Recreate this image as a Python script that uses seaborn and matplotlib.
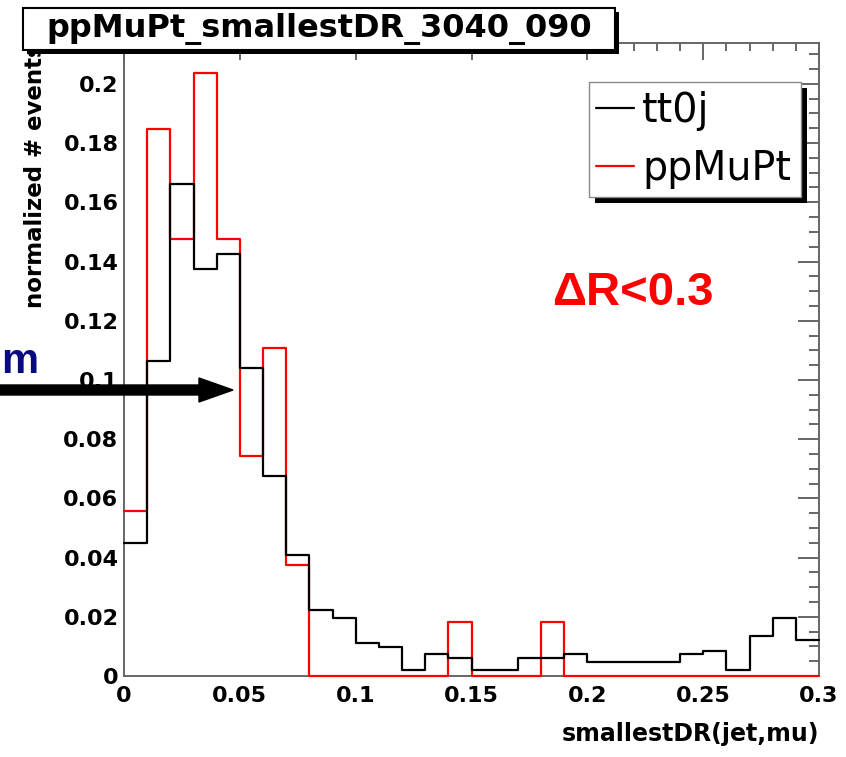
import numpy as np
import pandas as pd
import matplotlib
matplotlib.use("Agg")
import matplotlib.pyplot as plt
import matplotlib.patches as mpatches
from matplotlib.lines import Line2D
from matplotlib.ticker import MultipleLocator
import seaborn as sns

# ---------------- data ----------------
bin_edges = [0.00, 0.01, 0.02, 0.03, 0.04, 0.05, 0.06, 0.07, 0.08, 0.09, 0.10,
             0.11, 0.12, 0.13, 0.14, 0.15, 0.16, 0.17, 0.18, 0.19, 0.20,
             0.21, 0.22, 0.23, 0.24, 0.25, 0.26, 0.27, 0.28, 0.29, 0.30]
tt0j = [0.045, 0.1065, 0.1662, 0.1376, 0.1427, 0.1039, 0.0674, 0.0409, 0.0222, 0.0196,
        0.0110, 0.0099, 0.0020, 0.0073, 0.0062, 0.0020, 0.0020, 0.0060, 0.0060, 0.0073,
        0.0046, 0.0046, 0.0046, 0.0046, 0.0073, 0.0085, 0.0020, 0.0135, 0.0196, 0.0121]
ppMuPt = [0.0557, 0.1847, 0.1477, 0.2037, 0.1477, 0.0742, 0.1107, 0.0374, 0.0, 0.0,
          0.0, 0.0, 0.0, 0.0, 0.0183, 0.0, 0.0, 0.0, 0.0183, 0.0,
          0.0, 0.0, 0.0, 0.0, 0.0, 0.0, 0.0, 0.0, 0.0, 0.0]
series_names = ["tt0j", "ppMuPt"]
series_colors = ["#000000", "#ff0000"]
title_text = "ppMuPt_smallestDR_3040_090"
x_title = "smallestDR(jet,mu)"
y_title = "normalized # events"
annot_text = "ΔR<0.3"
side_text = "m"

centers = [(a + b) / 2 for a, b in zip(bin_edges[:-1], bin_edges[1:])]
df = pd.DataFrame({"center": centers * 2,
                   "value": tt0j + ppMuPt,
                   "sample": [series_names[0]] * len(tt0j) + [series_names[1]] * len(ppMuPt)})

W, H = 846, 757
sns.set_theme(style="white")
plt.rcParams["font.family"] = ["DejaVu Sans"]
plt.rcParams["text.color"] = "black"
plt.rcParams["axes.labelcolor"] = "black"
plt.rcParams["xtick.labelcolor"] = "black"
plt.rcParams["ytick.labelcolor"] = "black"

fig = plt.figure(figsize=(W / 100, H / 100), dpi=100)
ax = fig.add_axes([124 / W, 1 - 676 / H, 695 / W, 633 / H])

# red first, black on top (both above the frame)
for name, col, z in [(series_names[1], series_colors[1], 3), (series_names[0], series_colors[0], 4)]:
    sub = df[df["sample"] == name]
    sns.histplot(data=sub, x="center", weights="value", bins=bin_edges,
                 element="step", fill=False, color=col, linewidth=1.6,
                 ax=ax, zorder=z, clip_on=False)

ax.set_xlim(0, 0.3)
ax.set_ylim(0, 0.2138)
ax.xaxis.set_minor_locator(MultipleLocator(0.01))
ax.yaxis.set_minor_locator(MultipleLocator(0.005))
ax.set_xticks([0, 0.05, 0.1, 0.15, 0.2, 0.25, 0.3])
ax.set_xticklabels(["0", "0.05", "0.1", "0.15", "0.2", "0.25", "0.3"])
ax.set_yticks([0, 0.02, 0.04, 0.06, 0.08, 0.1, 0.12, 0.14, 0.16, 0.18, 0.2])
ax.set_yticklabels(["0", "0.02", "0.04", "0.06", "0.08", "0.1", "0.12", "0.14", "0.16", "0.18", "0.2"])
tick_col = "#666666"
ax.tick_params(axis="both", which="both", direction="in", top=True, right=True,
               color=tick_col, width=1.4, labelcolor="black")
ax.tick_params(axis="x", which="major", length=12, pad=7, labelsize=16)
ax.tick_params(axis="x", which="minor", length=6)
ax.tick_params(axis="y", which="major", length=15, pad=4, labelsize=16)
ax.tick_params(axis="y", which="minor", length=7.5)
for lab in ax.get_xticklabels() + ax.get_yticklabels():
    lab.set_fontweight("bold")
for sp in ax.spines.values():
    sp.set_color(tick_col)
    sp.set_linewidth(1.4)
    sp.set_zorder(2)

ax.set_xlabel(x_title, loc="right", fontsize=17, fontweight="bold", labelpad=12, color="black")
ax.set_ylabel(y_title, loc="top", fontsize=16.5, fontweight="bold", labelpad=12, color="black")


def rect_px(x, y, w, h, **kw):
    return mpatches.Rectangle((x / W, 1 - (y + h) / H), w / W, h / H,
                              transform=fig.transFigure, **kw)

# title box with shadow
fig.add_artist(rect_px(26.5, 12, 592, 42, facecolor="black", edgecolor="none", zorder=5))
fig.add_artist(rect_px(22.7, 8, 592, 42, facecolor="white", edgecolor="black", linewidth=1.5, zorder=6))
fig.text((22.7 + 296) / W, 1 - 29 / H, title_text, ha="center", va="center",
         fontsize=23, fontweight="bold", color="black", zorder=7)

# legend box with shadow
fig.add_artist(rect_px(595, 88, 212, 115, facecolor="black", edgecolor="none", zorder=5))
fig.add_artist(rect_px(589, 82, 212, 115, facecolor="white", edgecolor="#888888", linewidth=1.0, zorder=6))
handles = [Line2D([], [], color=series_colors[0], lw=1.6),
           Line2D([], [], color=series_colors[1], lw=1.6)]
leg = fig.legend(handles, series_names, loc="center left",
                 bbox_to_anchor=(596 / W, 1 - 140 / H), frameon=False,
                 fontsize=28.5, handlelength=0.95, handletextpad=0.22,
                 labelspacing=0.47, borderpad=0.0, borderaxespad=0.0)
for t in leg.get_texts():
    t.set_color("black")
leg.set_zorder(8)

# annotation
fig.text(552 / W, 1 - 305 / H, annot_text, ha="left", va="baseline", color="#ff0000",
         fontsize=34, fontweight="bold", family=["Liberation Sans", "DejaVu Sans"])

# partly hidden label and arrow on the left
fig.text(1 / W, 1 - 373 / H, side_text, ha="left", va="baseline", color="#0a0a80",
         fontsize=30, fontweight="bold", family=["Liberation Sans", "DejaVu Sans"])
arrow = mpatches.FancyArrow(-5 / W, 1 - 390 / H, 238 / W, 0, width=10 / H,
                            head_width=24 / H, head_length=34 / W,
                            length_includes_head=True, transform=fig.transFigure,
                            color="black", zorder=9)
fig.add_artist(arrow)

fig.savefig("out.png", dpi=100)
